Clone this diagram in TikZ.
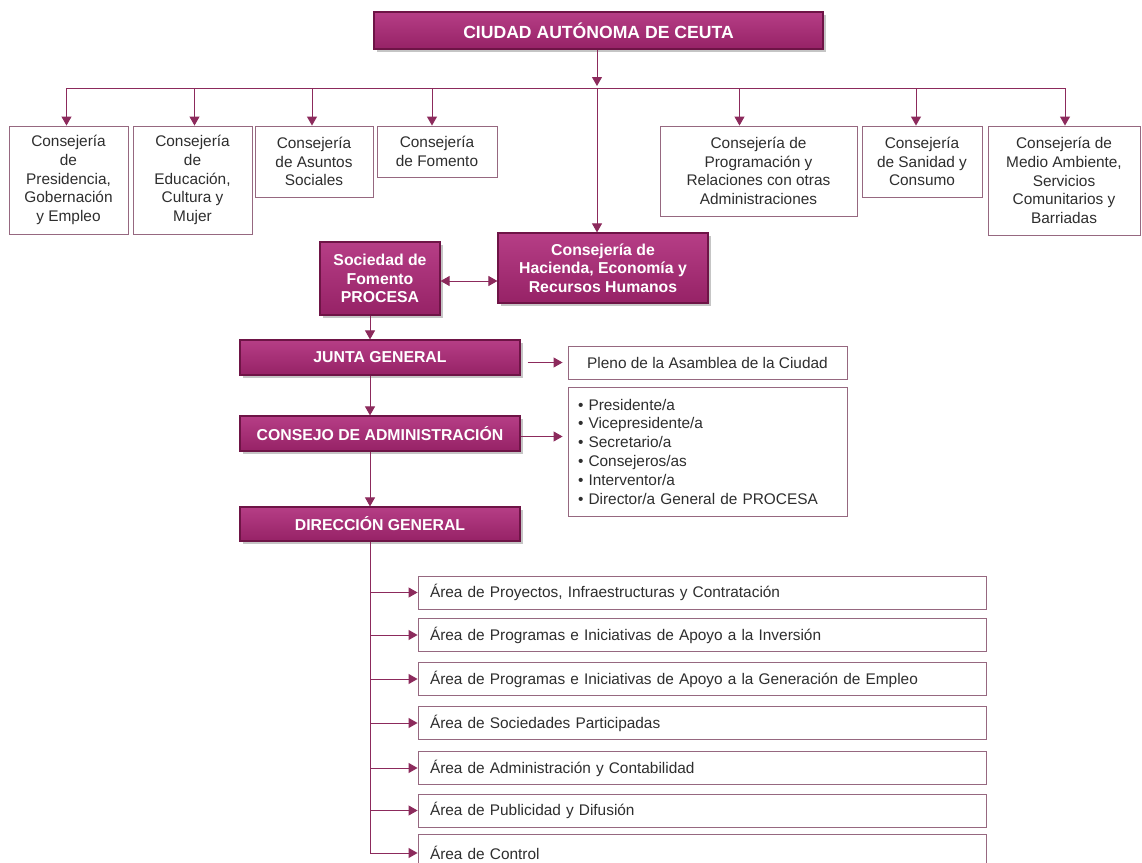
\documentclass[tikz,border=0pt]{standalone}
\usepackage{fontspec}
\setmainfont{Liberation Sans}
\usepackage{xcolor}
\usetikzlibrary{arrows.meta,shadows}

\definecolor{magtop}{RGB}{182,62,134}
\definecolor{magbot}{RGB}{150,34,102}
\definecolor{magdark}{RGB}{110,20,70}
\definecolor{linkcol}{RGB}{140,42,92}
\definecolor{boxline}{RGB}{150,104,128}

\begin{document}
\begin{tikzpicture}[x=1pt,y=-1pt]

    % organigrama PROCESA
    \tikzstyle{magbox}=[rectangle,top color=magtop,bottom color=magbot,draw=magdark,line width=1.2pt,
        text=white,font=\fontsize{15.8}{18.5}\selectfont\bfseries,align=center,
        drop shadow={shadow xshift=3pt,shadow yshift=-3pt,opacity=0.45}]
    \tikzstyle{conbox}=[rectangle,draw=boxline,line width=0.9pt,fill=white,text=black!82,
        font=\fontsize{15.4}{18.8}\selectfont,align=center,inner sep=2pt]
    \tikzstyle{areabox}=[conbox,minimum height=33pt,text width=544pt,inner xsep=12pt,align=left]
    \tikzstyle{link}=[draw=linkcol,line width=1pt]
    \tikzstyle{linkarrow}=[link,-{Triangle[length=9pt,width=10pt]}]

    \clip (0,0) rectangle (1142,862);
    \useasboundingbox (0,0) rectangle (1142,862);
    \fill[white] (0,0) rectangle (1142,862);

    \node[magbox,minimum width=449pt,minimum height=37pt,font=\fontsize{17.6}{20}\selectfont\bfseries] (ciudad) at (598.5,30.5) {CIUDAD AUT\'ONOMA DE CEUTA};

    % consejerias
    \node[conbox,minimum width=119pt,minimum height=108pt] (cons1) at (68.5,180) {Consejería\\de\\Presidencia,\\Gobernación\\y Empleo};
    \node[conbox,minimum width=119pt,minimum height=108pt] (cons2) at (192.5,180) {Consejería\\de\\Educación,\\Cultura y\\Mujer};
    \node[conbox,minimum width=118pt,minimum height=71pt] (cons3) at (314,161.5) {Consejería\\de Asuntos\\Sociales};
    \node[conbox,minimum width=120pt,minimum height=51pt] (cons4) at (437,151.5) {Consejería\\de Fomento};
    \node[conbox,minimum width=197pt,minimum height=90pt] (cons5) at (758.5,171) {Consejería de\\Programación y\\Relaciones con otras\\Administraciones};
    \node[conbox,minimum width=120pt,minimum height=71pt] (cons6) at (922,161.5) {Consejería\\de Sanidad y\\Consumo};
    \node[conbox,minimum width=152pt,minimum height=109pt] (cons7) at (1064,180.5) {Consejería de\\Medio Ambiente,\\Servicios\\Comunitarios y\\Barriadas};

    \node[magbox,minimum width=210pt,minimum height=70pt] (hacienda) at (603,268) {Consejería de\\Hacienda, Economía y\\Recursos Humanos};
    \node[magbox,minimum width=120pt,minimum height=73pt] (procesa) at (380,278.5) {Sociedad de\\Fomento\\PROCESA};

    % organos de PROCESA
    \node[magbox,minimum width=280pt,minimum height=35pt] (junta) at (380,357.5) {JUNTA GENERAL};
    \node[magbox,minimum width=280pt,minimum height=35pt] (consejo) at (380,433.5) {CONSEJO DE ADMINISTRACI\'ON};
    \node[magbox,minimum width=280pt,minimum height=34pt] (direccion) at (380,524) {DIRECCI\'ON GENERAL};

    \node[conbox,minimum width=279pt,minimum height=33pt] (pleno) at (707.5,362.5) {Pleno de la Asamblea de la Ciudad};
    \node[conbox,minimum height=129pt,text width=259pt,inner xsep=10pt,align=left] (lista) at (707.5,451.5)
        {• Presidente/a\\• Vicepresidente/a\\• Secretario/a\\• Consejeros/as\\• Interventor/a\\• Director/a General de PROCESA};

    % areas
    \node[areabox] (area1) at (702,592.5) {Área de Proyectos, Infraestructuras y Contratación};
    \node[areabox] (area2) at (702,635) {Área de Programas e Iniciativas de Apoyo a la Inversión};
    \node[areabox] (area3) at (702,679) {Área de Programas e Iniciativas de Apoyo a la Generación de Empleo};
    \node[areabox] (area4) at (702,723) {Área de Sociedades Participadas};
    \node[areabox] (area5) at (702,768) {Área de Administración y Contabilidad};
    \node[areabox] (area6) at (702,810.5) {Área de Publicidad y Difusión};
    \node[areabox,minimum height=38pt] (area7) at (702,853) {Área de Control};

    \coordinate (bar) at (597,88);
    \coordinate (spine) at (370,0);

    \draw[linkarrow] (ciudad.south -| bar) -- ([yshift=2pt]bar);
    \draw[link] ([xshift=-2pt]cons1.north |- bar) -- ([xshift=1pt]cons7.north |- bar);
    \foreach \n/\dx in {cons1/-2,cons2/2,cons3/-2,cons4/-5,cons5/-19,cons6/-6,cons7/1}
        \draw[linkarrow] ([xshift=\dx pt]\n.north |- bar) -- ([xshift=\dx pt]\n.north);
    \draw[linkarrow] (bar) -- (bar |- hacienda.north);
    \draw[link,{Triangle[length=9pt,width=10pt]}-{Triangle[length=9pt,width=10pt]}]
        ([yshift=-2.5pt]procesa.east) -- ([yshift=-2.5pt]procesa.east -| hacienda.west);

    \draw[linkarrow] (procesa.south -| spine) -- (junta.north -| spine);
    \draw[linkarrow] (junta.south -| spine) -- (consejo.north -| spine);
    \draw[linkarrow] (consejo.south -| spine) -- (direccion.north -| spine);
    \draw[linkarrow] ([xshift=7pt]junta.east |- pleno.west) -- ([xshift=-5pt]pleno.west);
    \draw[linkarrow] ([yshift=-3pt]consejo.east) -- ([yshift=-3pt,xshift=-5pt]consejo.east -| lista.west);

    \draw[link] (direccion.south -| spine) -- (spine |- area7.west);
    \foreach \i in {1,...,7}
        \draw[linkarrow] (spine |- area\i.west) -- (area\i.west);

\end{tikzpicture}
\end{document}
